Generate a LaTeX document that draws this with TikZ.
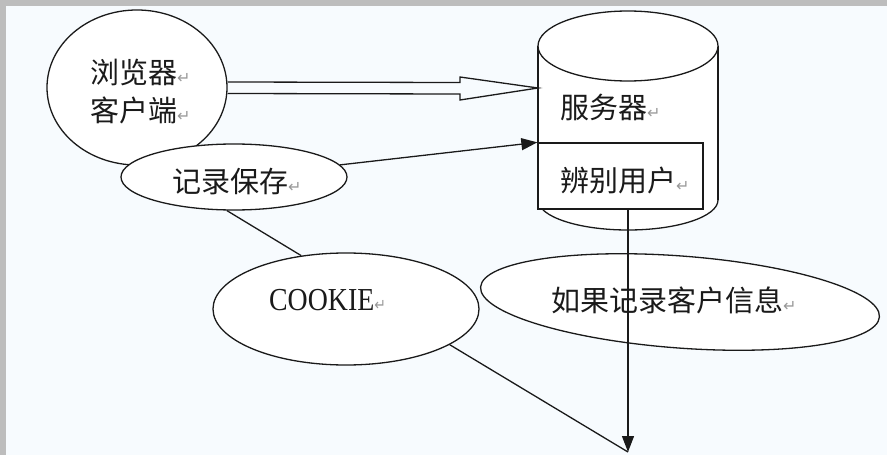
\documentclass[tikz,border=0pt]{standalone}
\usepackage{fontspec}
\setmainfont{Liberation Serif}
\newfontfamily\cjk{Noto Sans CJK SC}
\newfontfamily\dejavu{DejaVu Sans}
\usetikzlibrary{shapes.geometric,arrows.meta,calc}
\definecolor{bgin}{HTML}{F7FBFE}
\definecolor{framegray}{HTML}{BDBDBD}
\definecolor{ink}{HTML}{1A1A1A}
\newcommand{\pmark}{{\dejavu\fontsize{16}{16}\selectfont\color{gray!80}↵}}
\begin{document}
\begin{tikzpicture}[x=1pt,y=-1pt,
  shapeline/.style={draw=ink, line width=1.3pt, fill=white},
  oval/.style={shapeline, ellipse, inner sep=0pt},
  conn/.style={draw=ink, line width=1.3pt},
  tipped/.style={-{Triangle[length=16pt,width=12pt]}},
  cjktext/.style={font=\cjk\fontsize{29}{34}\selectfont, text=ink, inner sep=0pt, anchor=west},
]
\fill[framegray] (0,0) rectangle (887,455);
\fill[bgin] (6,6) rectangle (887,455);
\useasboundingbox (0,0) rectangle (887,455);

% browser
\node[oval, minimum width=180pt, minimum height=155pt] (browser) at (137,87.5) {};

% server cylinder
\draw[shapeline] (628,200) ellipse [x radius=90, y radius=30];
\fill[white] (538,46) rectangle (718,200);
\draw[conn] (538,46) -- (538,200);
\draw[conn] (718,46) -- (718,200);
\draw[shapeline] (628,46) ellipse [x radius=90, y radius=35];
\coordinate (srvwest) at (538,88);

\node[shapeline, rectangle, inner sep=0pt, minimum width=165pt, minimum height=66pt] (ident) at (620.5,176) {};

% double arrow
\draw[conn, line join=miter] ($(browser.east)+(0,-5.5)$) -- ($(srvwest)+(-78,-5.5)$) -- ($(srvwest)+(-78,-11)$) -- (srvwest) -- ($(srvwest)+(-78,12)$) -- ($(srvwest)+(-78,6)$) -- ($(browser.east)+(0,6)$);

% record ellipse
\node[oval, minimum width=226pt, minimum height=66pt] (jilu) at (234,177) {};

% cookie
\node[oval, minimum width=266pt, minimum height=112pt] (cookie) at (346,309) {};

% info ellipse
\node[oval, minimum width=400pt, minimum height=92pt, rotate=-4.3] (info) at (680,302) {};

% texts
\node[cjktext] (t1) at (90,72) {浏览器\pmark};
\node[cjktext] (t2) at (90,110) {客户端\pmark};
\node[cjktext] (t3) at (560,107) {服务器\pmark};
\node[cjktext] (t4) at (560,180) {辨别用户\pmark};
\node[cjktext] (t5) at (172,182) {记录保存\pmark};
\node[cjktext] (t7) at (551,300) {如果记录客户信息\pmark};
\node[font=\fontsize{32}{34}\selectfont, text=ink, xscale=0.87, anchor=west, inner sep=0pt] (t6) at (269,300) {COOKIE\pmark};

% connectors
\coordinate (endpt) at (628,452);
\draw[conn, tipped] (jilu) -- (ident.north west);
\draw[conn] (jilu.258) -- (cookie.130);
\draw[conn] (cookie.-19) -- (endpt);
\draw[conn, tipped] (ident.south -| endpt) -- (endpt);
\end{tikzpicture}
\end{document}
